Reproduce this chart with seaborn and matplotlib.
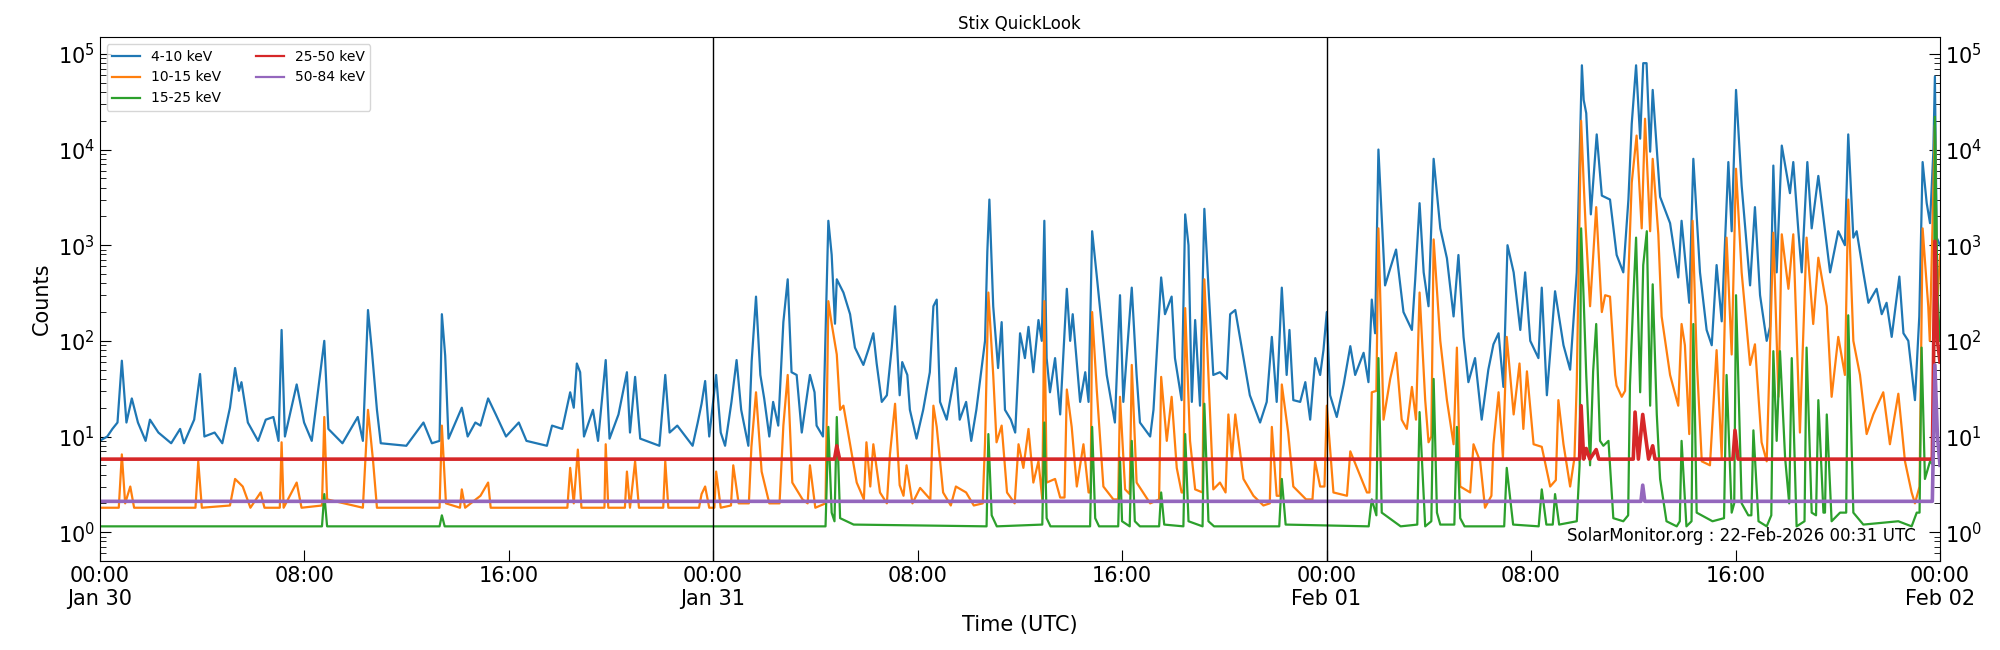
import matplotlib
matplotlib.use("Agg")
import matplotlib.pyplot as plt
import matplotlib.dates as mdates
from matplotlib.ticker import FuncFormatter, LogLocator
import numpy as np
import pandas as pd
import seaborn as sns

band_4_10 = [
    (0.0, 9), (0.3, 10), (0.5, 12), (0.7, 14), (0.87, 62), (1.05, 14), (1.26, 25), (1.5, 14),
    (1.8, 9), (1.97, 15), (2.3, 11), (2.8, 8.5), (3.15, 12), (3.3, 8.5), (3.7, 15), (3.93, 45),
    (4.1, 10), (4.5, 11), (4.8, 8.5), (5.1, 20), (5.3, 52), (5.45, 30), (5.55, 37), (5.8, 14),
    (6.2, 9), (6.5, 15), (6.8, 16), (7.0, 9), (7.12, 130), (7.25, 10), (7.71, 35), (8.0, 14),
    (8.3, 9), (8.79, 100), (8.95, 12), (9.5, 8.5), (10.1, 16), (10.3, 9), (10.5, 210), (10.65, 80),
    (10.85, 19), (11.0, 8.5), (12.0, 8), (12.67, 14), (13.0, 8.5), (13.3, 9), (13.39, 190),
    (13.52, 70), (13.65, 9.5), (14.17, 20), (14.4, 10), (14.7, 14), (14.9, 13), (15.2, 25),
    (15.5, 17), (15.9, 10), (16.4, 14), (16.7, 9), (17.5, 8), (17.7, 13), (18.1, 12), (18.41, 29),
    (18.55, 20), (18.67, 58), (18.8, 47), (18.95, 10), (19.3, 19), (19.5, 9), (19.8, 63),
    (19.95, 9.5), (20.3, 17), (20.63, 47), (20.75, 11), (20.95, 42), (21.15, 9.5), (21.9, 8),
    (22.13, 44), (22.3, 11), (22.6, 13), (23.2, 8), (23.4, 14), (23.55, 22), (23.69, 38),
    (23.85, 10), (24.12, 44), (24.3, 11), (24.47, 8), (24.72, 23), (24.92, 63), (25.1, 19),
    (25.38, 8), (25.51, 61), (25.68, 290), (25.85, 44), (26.0, 25), (26.2, 10), (26.35, 23),
    (26.55, 13), (26.75, 157), (26.92, 440), (27.07, 47), (27.27, 44), (27.47, 11), (27.79, 44),
    (27.97, 29), (28.05, 13), (28.3, 10), (28.51, 1800), (28.64, 794), (28.77, 151), (28.84, 440),
    (29.1, 320), (29.36, 190), (29.55, 85), (29.88, 56), (30.07, 80), (30.27, 120), (30.4, 58),
    (30.6, 23), (30.8, 27), (30.99, 85), (31.12, 230), (31.3, 27), (31.4, 60), (31.6, 44),
    (31.7, 19), (31.96, 9.5), (32.22, 19), (32.48, 47), (32.62, 230), (32.75, 270), (32.88, 23),
    (33.14, 15), (33.5, 52), (33.65, 15), (33.9, 23), (34.1, 9), (34.3, 19), (34.64, 100),
    (34.73, 860), (34.81, 3000), (34.9, 630), (34.96, 230), (35.15, 52), (35.29, 157), (35.42, 19),
    (35.65, 15), (35.82, 11), (36.01, 120), (36.2, 66), (36.34, 140), (36.53, 47), (36.73, 165),
    (36.86, 100), (36.96, 1800), (37.05, 66), (37.18, 29), (37.38, 66), (37.58, 17), (37.84, 350),
    (37.97, 100), (38.07, 190), (38.36, 23), (38.56, 47), (38.69, 23), (38.83, 1400), (39.01, 480),
    (39.4, 44), (39.72, 14), (39.92, 300), (40.05, 23), (40.38, 360), (40.57, 44), (40.7, 14),
    (41.1, 10), (41.23, 19), (41.53, 460), (41.68, 190), (41.94, 290), (42.07, 66), (42.33, 24),
    (42.47, 2100), (42.6, 1000), (42.73, 23), (42.86, 165), (43.05, 21), (43.22, 2400),
    (43.38, 370), (43.57, 44), (43.83, 47), (44.1, 40), (44.23, 190), (44.43, 210), (44.75, 66),
    (45.0, 27), (45.4, 14), (45.66, 23), (45.86, 110), (46.05, 23), (46.25, 360), (46.44, 44),
    (46.55, 130), (46.7, 24), (46.97, 23), (47.17, 37), (47.36, 15), (47.56, 66), (47.75, 44),
    (47.88, 80), (48.01, 200), (48.14, 27), (48.4, 16), (48.67, 35), (48.93, 88), (49.12, 44),
    (49.45, 75), (49.64, 37), (49.77, 270), (49.9, 120), (50.03, 10000), (50.29, 380),
    (50.49, 570), (50.72, 900), (51.01, 200), (51.34, 130), (51.47, 440), (51.64, 2750),
    (51.8, 520), (51.99, 230), (52.19, 8000), (52.45, 1500), (52.71, 730), (52.97, 180),
    (53.16, 790), (53.36, 110), (53.55, 37), (53.81, 66), (54.07, 15), (54.33, 50), (54.53, 92),
    (54.73, 120), (54.92, 33), (55.08, 1000), (55.32, 520), (55.58, 130), (55.77, 520),
    (55.97, 100), (56.29, 66), (56.42, 360), (56.62, 27), (56.94, 330), (57.27, 90), (57.53, 50),
    (57.79, 520), (57.99, 76000), (58.06, 33000), (58.16, 24000), (58.34, 2100), (58.57, 14400),
    (58.77, 3300), (59.09, 3000), (59.35, 790), (59.61, 520), (59.81, 3000), (59.94, 18600),
    (60.11, 76000), (60.27, 13000), (60.39, 80000), (60.52, 80000), (60.66, 9500), (60.76, 42000),
    (61.05, 3200), (61.44, 1700), (61.76, 460), (61.89, 1800), (62.19, 250), (62.35, 8000),
    (62.61, 520), (62.87, 130), (63.07, 90), (63.26, 620), (63.46, 160), (63.72, 7400),
    (63.85, 1400), (64.02, 42000), (64.24, 4200), (64.57, 380), (64.76, 2500), (64.96, 300),
    (65.22, 100), (65.35, 140), (65.48, 6800), (65.61, 520), (65.81, 11000), (66.13, 3500),
    (66.26, 7400), (66.46, 1400), (66.59, 520), (66.81, 7400), (66.98, 1500), (67.24, 5300),
    (67.7, 520), (68.02, 1400), (68.28, 1000), (68.41, 14400), (68.61, 1200), (68.74, 1400),
    (69.0, 520), (69.2, 250), (69.52, 350), (69.72, 190), (69.91, 250), (70.11, 110), (70.41, 470),
    (70.57, 120), (70.76, 100), (71.02, 24), (71.19, 180), (71.32, 7400), (71.48, 2750),
    (71.61, 1700), (71.74, 9500), (71.8, 58000), (71.87, 1200), (72.0, 1000),
]

band_10_15 = [
    (0.0, 1.8), (0.75, 1.8), (0.87, 6.5), (1.0, 2.0), (1.2, 3.0), (1.35, 1.8), (3.75, 1.8),
    (3.86, 5.5), (4.0, 1.8), (5.1, 1.9), (5.3, 3.6), (5.6, 3.0), (5.9, 1.8), (6.3, 2.6),
    (6.45, 1.8), (7.05, 1.8), (7.12, 8.7), (7.2, 1.8), (7.71, 3.3), (7.9, 1.8), (8.7, 1.9),
    (8.79, 16), (8.9, 2.2), (10.3, 1.8), (10.5, 19), (10.7, 5.5), (10.85, 1.8), (13.3, 1.8),
    (13.39, 13), (13.55, 2.0), (14.1, 1.8), (14.17, 2.8), (14.3, 1.8), (14.9, 2.4), (15.2, 3.3),
    (15.3, 1.8), (18.3, 1.8), (18.41, 4.7), (18.55, 2.0), (18.71, 7.3), (18.85, 1.8), (19.75, 1.8),
    (19.8, 8.3), (19.9, 1.8), (20.55, 1.8), (20.63, 4.3), (20.75, 1.8), (20.95, 5.5), (21.1, 1.8),
    (22.05, 1.8), (22.13, 5.5), (22.25, 1.8), (23.45, 1.8), (23.55, 2.5), (23.69, 3.0),
    (23.85, 1.8), (24.05, 1.8), (24.12, 4.3), (24.3, 1.8), (24.7, 1.9), (24.79, 5), (25.0, 2.0),
    (25.4, 2.0), (25.5, 7.8), (25.68, 29), (25.9, 4.3), (26.2, 2.0), (26.6, 2.0), (26.75, 13),
    (26.92, 44), (27.1, 3.3), (27.5, 2.2), (27.7, 2.0), (27.79, 5), (28.0, 1.8), (28.4, 2.0),
    (28.51, 260), (28.64, 151), (28.84, 72), (28.97, 19), (29.1, 21), (29.36, 8.3), (29.62, 3.3),
    (29.9, 2.2), (30.0, 8.7), (30.15, 3.0), (30.27, 8.3), (30.53, 2.6), (30.8, 2.0), (30.92, 6.5),
    (31.12, 22), (31.3, 3.1), (31.45, 2.4), (31.57, 5.0), (31.8, 2.0), (32.1, 2.9), (32.5, 2.2),
    (32.62, 21), (32.75, 12.6), (33.0, 2.6), (33.3, 1.9), (33.5, 3.0), (33.9, 2.6), (34.2, 1.9),
    (34.55, 2.0), (34.64, 8.7), (34.77, 320), (34.96, 44), (35.09, 8.7), (35.29, 13), (35.5, 2.6),
    (35.8, 2.0), (35.95, 8.3), (36.14, 4.7), (36.34, 12), (36.53, 3.3), (36.73, 5.5), (36.88, 2.2),
    (36.96, 260), (37.05, 3.3), (37.38, 3.6), (37.58, 2.3), (37.75, 2.3), (37.84, 31),
    (38.03, 12.6), (38.23, 3.0), (38.49, 8.3), (38.69, 2.6), (38.77, 2.6), (38.83, 200),
    (39.01, 31), (39.27, 3.0), (39.66, 2.2), (39.85, 2.2), (39.92, 26), (40.12, 2.8), (40.3, 2.5),
    (40.38, 56), (40.57, 3.3), (41.1, 2.0), (41.45, 2.2), (41.53, 42), (41.75, 9), (41.94, 26),
    (42.14, 4.7), (42.33, 2.6), (42.4, 2.6), (42.47, 220), (42.66, 9), (42.86, 2.8), (43.15, 2.6),
    (43.22, 440), (43.38, 44), (43.57, 2.8), (43.83, 3.3), (44.05, 2.6), (44.16, 17), (44.3, 6),
    (44.43, 17), (44.75, 3.6), (45.14, 2.4), (45.53, 1.9), (45.78, 2.0), (45.86, 12.6),
    (46.05, 2.4), (46.17, 2.4), (46.25, 35), (46.5, 11), (46.7, 3.0), (47.2, 2.2), (47.45, 2.2),
    (47.55, 5.5), (47.75, 3.0), (47.92, 3.0), (48.01, 21), (48.27, 2.6), (48.8, 2.4), (48.93, 7),
    (49.25, 4.3), (49.58, 2.6), (49.68, 2.6), (49.77, 29), (49.95, 30), (50.03, 1500), (50.23, 15),
    (50.49, 40), (50.72, 75), (50.94, 15), (51.14, 12), (51.34, 33), (51.5, 15), (51.64, 320),
    (51.86, 24), (51.99, 8.7), (52.1, 10), (52.19, 1150), (52.45, 100), (52.71, 24), (52.97, 8.3),
    (53.1, 85), (53.23, 3.0), (53.62, 2.6), (53.75, 8.3), (54.01, 5.5), (54.2, 1.8), (54.45, 2.4),
    (54.53, 8.3), (54.73, 29), (54.9, 6), (55.05, 110), (55.32, 17), (55.55, 58), (55.7, 12),
    (55.84, 48), (56.1, 8.3), (56.42, 7.8), (56.75, 3.0), (56.97, 3.5), (57.07, 24), (57.27, 8.3),
    (57.53, 3.0), (57.7, 6), (57.79, 37), (57.96, 20000), (58.06, 4500), (58.14, 1500),
    (58.31, 230), (58.55, 2500), (58.77, 200), (58.9, 300), (59.09, 290), (59.29, 44), (59.35, 34),
    (59.55, 26), (59.68, 30), (59.81, 480), (59.94, 4500), (60.13, 14000), (60.33, 1500),
    (60.46, 21000), (60.66, 1400), (60.76, 8000), (60.98, 1300), (61.11, 180), (61.44, 44),
    (61.76, 21), (61.89, 150), (62.02, 90), (62.19, 10.6), (62.32, 1800), (62.48, 66), (62.68, 5.5),
    (63.0, 5), (63.26, 80), (63.46, 6), (63.65, 1200), (63.85, 72), (64.02, 6300), (64.24, 520),
    (64.57, 56), (64.76, 92), (65.02, 8.7), (65.22, 5.5), (65.48, 1350), (65.68, 26),
    (65.81, 1300), (66.07, 350), (66.26, 1300), (66.52, 11), (66.78, 1200), (67.04, 150),
    (67.24, 740), (67.57, 230), (67.76, 26), (68.02, 110), (68.28, 44), (68.41, 3000),
    (68.61, 100), (68.87, 44), (69.13, 10.6), (69.39, 17), (69.78, 29), (70.04, 8.3), (70.37, 28),
    (70.63, 5.5), (70.89, 2.6), (71.02, 2.0), (71.2, 3.0), (71.32, 1500), (71.54, 230),
    (71.6, 100), (71.8, 18000), (71.89, 230), (72.0, 800),
]

band_15_25 = [
    (0.0, 1.15), (8.7, 1.15), (8.79, 2.5), (8.9, 1.15), (13.3, 1.15), (13.39, 1.5), (13.5, 1.15),
    (28.4, 1.15), (28.51, 12.6), (28.64, 1.6), (28.75, 1.3), (28.84, 16), (28.97, 1.4),
    (29.5, 1.2), (34.7, 1.15), (34.77, 10.6), (34.9, 1.5), (35.1, 1.15), (36.88, 1.2),
    (36.96, 14), (37.05, 1.4), (37.2, 1.15), (38.75, 1.15), (38.83, 12.6), (38.95, 1.4),
    (39.1, 1.15), (39.85, 1.15), (39.92, 6), (40.0, 1.3), (40.3, 1.15), (40.38, 9), (40.5, 1.3),
    (40.7, 1.15), (41.45, 1.15), (41.53, 2.6), (41.65, 1.2), (42.4, 1.15), (42.47, 10.6),
    (42.6, 1.3), (43.15, 1.15), (43.22, 22), (43.38, 1.3), (43.6, 1.15), (46.15, 1.15),
    (46.25, 3.6), (46.4, 1.2), (49.65, 1.15), (49.77, 2.2), (49.95, 1.5), (50.03, 66),
    (50.16, 1.6), (50.9, 1.15), (51.55, 1.2), (51.64, 18), (51.86, 1.15), (52.1, 1.3),
    (52.19, 40), (52.32, 1.6), (52.45, 1.2), (53.0, 1.2), (53.1, 12.6), (53.23, 1.4),
    (53.4, 1.15), (54.95, 1.15), (55.05, 4.7), (55.3, 1.2), (56.3, 1.15), (56.42, 2.8),
    (56.6, 1.2), (56.85, 1.2), (56.94, 2.5), (57.1, 1.2), (57.79, 1.3), (57.9, 5), (57.96, 1500),
    (58.06, 270), (58.16, 44), (58.31, 5), (58.43, 48), (58.55, 150), (58.7, 9), (58.83, 8),
    (59.03, 9), (59.22, 1.4), (59.61, 1.3), (59.8, 1.5), (59.87, 34), (60.0, 270), (60.11, 1200),
    (60.27, 29), (60.39, 620), (60.53, 1400), (60.66, 21), (60.76, 390), (60.92, 17), (61.05, 3.6),
    (61.3, 1.3), (61.7, 1.15), (61.82, 1.3), (61.89, 9), (62.08, 1.15), (62.28, 1.3),
    (62.35, 150), (62.48, 1.6), (63.1, 1.3), (63.55, 1.4), (63.65, 44), (63.85, 1.6), (63.95, 2),
    (64.02, 300), (64.24, 2.0), (64.5, 1.5), (64.62, 1.5), (64.7, 11.6), (64.9, 1.3),
    (65.22, 1.15), (65.4, 1.5), (65.48, 78), (65.61, 9), (65.74, 78), (65.94, 6), (66.1, 2),
    (66.2, 66), (66.39, 1.15), (66.7, 1.3), (66.78, 85), (66.98, 1.6), (67.15, 1.5), (67.24, 24),
    (67.44, 1.6), (67.5, 1.6), (67.57, 17), (67.76, 1.3), (68.09, 1.6), (68.33, 1.6),
    (68.41, 185), (68.61, 1.6), (69.0, 1.2), (70.37, 1.3), (70.89, 1.15), (71.09, 1.6),
    (71.2, 1.6), (71.28, 85), (71.41, 3.6), (71.61, 5.5), (71.75, 5), (71.8, 22000), (71.9, 300),
    (72.0, 100),
]

band_25_50 = [
    (0.0, 5.8), (28.75, 5.8), (28.84, 8), (28.95, 5.8), (57.9, 5.8), (57.96, 21), (58.06, 5.8),
    (58.16, 7.5), (58.3, 5.8), (58.55, 7.3), (58.65, 5.8), (60.0, 5.8), (60.07, 18), (60.2, 5.8),
    (60.37, 17), (60.46, 11), (60.6, 5.8), (60.76, 8), (60.85, 5.8), (63.9, 5.8), (63.98, 11.6),
    (64.1, 5.8), (71.7, 5.8), (71.8, 1100), (71.9, 100), (72.0, 60),
]

band_50_84 = [
    (0.0, 2.1), (60.3, 2.1), (60.37, 3.1), (60.45, 2.1), (71.7, 2.1), (71.8, 56), (71.9, 10),
    (72.0, 5),
]

band_names = ["4-10 keV", "10-15 keV", "15-25 keV", "25-50 keV", "50-84 keV"]
band_colors = ["#1f77b4", "#ff7f0e", "#2ca02c", "#d62728", "#9467bd"]
start = pd.Timestamp("2026-01-30 00:00")
day_lines = ["2026-01-31 00:00", "2026-02-01 00:00"]

frames = []
for name, pts in zip(band_names, [band_4_10, band_10_15, band_15_25, band_25_50, band_50_84]):
    h, c = zip(*pts)
    frames.append(pd.DataFrame({
        "time": start + pd.to_timedelta(np.array(h), unit="h"),
        "counts": c,
        "band": name,
    }))
df = pd.concat(frames, ignore_index=True)

fig = plt.figure(figsize=(20, 6.5), dpi=100)
ax = fig.add_axes([0.0498, 0.137, 0.9202, 0.806])

sns.lineplot(data=df, x="time", y="counts", hue="band", hue_order=band_names,
             palette=band_colors, estimator=None, sort=False, linewidth=1.6, ax=ax)
# the flat high-energy bands are noisy, thicker band in the original
for ln in ax.lines[3:5]:
    ln.set_linewidth(2.6)

ax.set_yscale("log")
ax.set_ylim(0.5, 1.5e5)
ax.set_xlim(start, start + pd.Timedelta(hours=72))
for d in day_lines:
    ax.axvline(pd.Timestamp(d), color="black", lw=1)

ax.xaxis.set_major_locator(mdates.HourLocator(byhour=[0, 8, 16]))


def fmt_time(x, pos):
    t = mdates.num2date(x)
    if t.hour == 0:
        return t.strftime("%H:%M\n%b %d")
    return t.strftime("%H:%M")


ax.xaxis.set_major_formatter(FuncFormatter(fmt_time))
ax.yaxis.set_major_locator(LogLocator(base=10, numticks=10))
ax.yaxis.set_minor_locator(LogLocator(base=10, subs=np.arange(2, 10), numticks=20))

ax.tick_params(axis="both", which="both", direction="in", labelsize=15)
ax.tick_params(axis="y", which="both", right=True, labelright=True)
ax.tick_params(axis="y", which="major", length=8)
ax.tick_params(axis="y", which="minor", length=4)
ax.tick_params(axis="x", which="major", length=8, top=False)

ax.set_xlabel("Time (UTC)", fontsize=15)
ax.set_ylabel("Counts", fontsize=15)
ax.set_title("Stix QuickLook", fontsize=12)

handles, labels = ax.get_legend_handles_labels()
ax.legend(handles, labels, loc="upper left", ncol=2, fontsize=10, columnspacing=2.5)

ax.text(0.987, 0.03, "SolarMonitor.org : 22-Feb-2026 00:31 UTC", transform=ax.transAxes,
        ha="right", va="bottom", fontsize=12)

fig.savefig("out.png", dpi=100)
